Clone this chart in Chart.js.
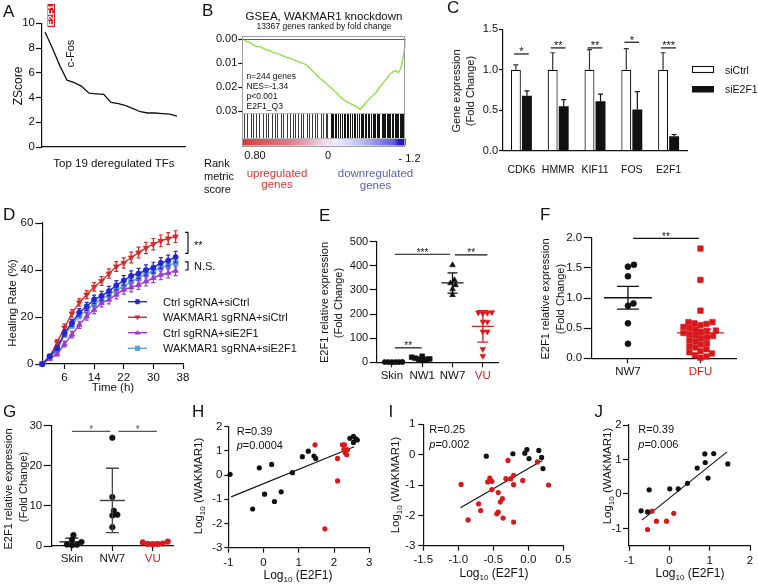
<!DOCTYPE html>
<html><head><meta charset="utf-8"><title>WAKMAR1 / E2F1 figure</title>
<script src="https://cdn.jsdelivr.net/npm/chart.js@4.4.1/dist/chart.umd.min.js"></script>
<style>
html,body{margin:0;padding:0;background:#fff;}
#wrap{position:relative;width:758px;height:587px;overflow:hidden;background:#fff;}
#wrap canvas{position:absolute;}
#wrap svg{position:absolute;left:0;top:0;pointer-events:none;}
</style></head>
<body><div id="wrap"></div>
<script>
// ================= DATA =================
// Panel A: top 19 deregulated transcription factors
const tfRank = [1,2,3,4,5,6,7,8,9,10,11,12,13,14,15,16,17,18,19];
const tfZScore = [9.3,8.0,6.6,5.4,5.2,4.9,4.35,4.3,4.25,3.6,3.5,3.35,3.1,2.85,2.75,2.75,2.7,2.65,2.5];
const topTFs = ['E2F1','c-Fos'];
// Panel B: GSEA running enrichment (magnitude, plotted downward)
const esRank = [0,85,357,630,903,1175,1448,1721,1993,2266,2539,2811,3084,3357,3629,3902,4175,4447,4720,4993,5265,5538,5811,6083,6356,6629,6901,7174,7447,7719,7992,8265,8537,8810,9083,9355,9628,9901,10173,10446,10719,10991,11264,11537,11809,12082,12355,12573,12763,12900,13036,13172,13308,13367];
const esValue = [0,0,0.00099,0.00141,0.00238,0.00308,0.00308,0.00378,0.00447,0.00475,0.00559,0.00587,0.00628,0.00698,0.00754,0.00796,0.00837,0.00907,0.00963,0.01004,0.01074,0.01213,0.01353,0.01492,0.01632,0.01743,0.01868,0.0198,0.02119,0.02258,0.02398,0.02509,0.02607,0.02676,0.02746,0.02816,0.02927,0.02788,0.02607,0.02467,0.02328,0.02189,0.0198,0.01813,0.01632,0.0145,0.01353,0.01311,0.01395,0.01283,0.01074,0.00726,0.00308,0];
const hitRanks = [139,409,687,900,1121,1391,1669,1939,2127,2405,2675,2863,3141,3354,3632,3902,4123,4311,4581,4777,4990,5268,5481,5677,5947,6135,6413,6577,6815,6953,7231,7330,7444,7560,7665,7853,8020,8131,8319,8430,8540,8680,8810,8949,9137,9250,9358,9571,9685,9790,9898,10010,10119,10307,10400,10503,10667,10760,10855,11043,11120,11207,11403,11500,11591,11700,11812,11920,12025,12120,12221,12352,12460,12573,12660,12761,12860,12957,13060,13170,13260];
const totalGenes = 13367;
const esTicks = [0,0.01,0.02,0.03];
const rankMetricLabels = ['0.80','0','- 1.2'];
const gseaStats = ['n=244 genes','NES=-1.34','p&lt;0.001','E2F1_Q3'];
// Panel C
const genes = ['CDK6','HMMR','KIF11','FOS','E2F1'];
const siCtrl = [1,1,1,1,1];
const siCtrlErr = [0.06,0.21,0.25,0.26,0.21];
const siE2F1 = [0.68,0.55,0.61,0.51,0.18];
const siE2F1Err = [0.06,0.08,0.09,0.22,0.02];
const cSigY = [1.195,1.27,1.27,1.34,1.27];
const cSigText = ['*','**','**','*','***'];
// Panel D
const timeH = [0,2,4,6,8,10,12,14,16,18,20,22,24,26,28,30,32,34,36];
const dTimeTicks = [6,14,22,30,38];
const dNames = ['Ctrl sgRNA+siCtrl','WAKMAR1 sgRNA+siCtrl','Ctrl sgRNA+siE2F1','WAKMAR1 sgRNA+siE2F1'];
const dCtrlSiCtrl = [0,3.3,6.8,13.2,17.5,22,24.5,27.5,29,31,33.5,35.5,37.5,38.5,40,41,43,44,45.5];
const dWakSiCtrl  = [0,3.3,9.2,15.5,21.5,26.2,29.5,32.8,35.3,38.5,41.5,43,45.3,47.4,49.4,51,52.4,53.4,54.2];
const dCtrlSiE2F1 = [0,2.2,4.2,8.5,12.5,16.7,20.3,23.1,26,27.4,29.5,31.6,32.6,33.7,35.2,36.6,38,38.7,39.7];
const dWakSiE2F1  = [0,2.7,5.8,12.3,16.5,20.5,23,25.5,27.5,29.5,31.5,33,35,36.5,38.3,39.5,41,42,43];
const dErrCtrlSiCtrl = [0,0.6,1.0,1.3,1.5,1.6,1.7,1.8,1.9,2.0,2.0,2.1,2.1,2.2,2.2,2.3,2.3,2.3,2.4];
const dErrWakSiCtrl  = [0,0.8,1.2,1.5,1.6,1.6,1.7,1.8,1.9,2.0,2.1,2.2,2.3,2.3,2.4,2.4,2.5,2.5,2.5];
const dErrCtrlSiE2F1 = [0,0.5,0.8,1.2,1.4,1.5,1.6,1.7,1.7,1.8,1.8,1.9,1.9,2.0,2.0,2.0,2.1,2.1,2.1];
const dErrWakSiE2F1  = [0,0.5,0.8,1.0,1.2,1.3,1.4,1.4,1.5,1.5,1.5,1.6,1.6,1.6,1.7,1.7,1.7,1.7,1.8];
const dBrackets = [[56,47.1,'**'],[43.5,40,'N.S.']];
// Panel E
const eCats = ['Skin','NW1','NW7','VU'];
const skinE = [0.6,1.4,0.9,1.2,0.8,1.1];
const nw1E = [25,21,14,17,8,10,12];
const nw7E = [403,328,320,341,303,279];
const vuE = [207,205,203,206,168,168,127,127,55,26];
const eSig = [[0.1,0.98,60,'**'],[0.1,1.92,448,'***'],[2.08,3.15,445,'**']];
// Panel F
const fCats = ['NW7','DFU'];
const nw7F = [1.55,1.52,1.36,0.87,0.91,0.58,0.24];
const dfuF = [1.82,1.30,0.79,0.60,0.60,0.58,0.57,0.55,0.52,0.50,0.48,0.46,0.45,0.43,0.42,0.40,0.38,0.37,0.35,0.33,0.30,0.28,0.25,0.23,0.20,0.18,0.15,0.12,0.10,0.08,0.05,0.03,0.01];
const fSig = [[0.07,0.98,1.99,'**']];
// Panel G
const gCats = ['Skin','NW7','VU'];
const skinG = [1.5,2.7,0.3,0.2,0.4,1.0];
const nw7G = [27.0,12.2,7.8,8.8,7.6,4.7];
const vuG = [1.1,0.5,0.4,0.5,0.6,0.9];
const gSig = [[0,0.95,28.6,'*'],[1.15,2.1,28.6,'*']];
// Panel H
const hBlackX = [-0.95,-0.31,-0.12,0.03,0.23,0.31,0.50,0.82,1.10,1.27,1.43,1.48,2.45,2.55,2.62,2.66,2.55];
const hBlackY = [0.03,-1.40,0.30,-0.79,0.44,-1.09,-0.69,0.10,0.76,0.99,0.79,0.69,1.52,1.60,1.50,1.45,1.35];
const hRedX = [1.46,1.74,2.10,2.10,2.24,2.30,2.28,2.32,2.36,2.38];
const hRedY = [1.25,-2.22,0.69,-0.24,1.25,1.25,1.05,0.92,0.84,1.05];
const hFitX = [-0.92,2.57], hFitY = [-0.90,1.17];
const hStats = ['R=0.39','0.0004'];
// Panel I
const iBlackX = [-0.60,-0.22,-0.05,-0.02,0.01,0.15,0.19,0.21];
const iBlackY = [-0.05,0.03,0.05,0.17,-0.13,0.14,-0.09,-0.46];
const iRedX = [-0.96,-0.86,-0.71,-0.68,-0.58,-0.55,-0.52,-0.52,-0.45,-0.43,-0.43,-0.40,-0.37,-0.36,-0.32,-0.29,-0.25,-0.21,-0.21,-0.21,-0.08,0.13,0.29];
const iRedY = [-0.98,-2.15,-1.62,-1.84,-0.90,-0.77,-0.88,-1.15,-1.95,-1.89,-1.25,-1.56,-1.45,-2.09,-0.79,-0.19,-0.79,-0.68,-0.99,-2.22,-0.85,-0.24,-1.00];
const iFitX = [-0.97,0.2], iFitY = [-1.75,-0.19];
const iStats = ['R=0.25','0.002'];
// Panel J
const jBlackX = [-0.70,-0.54,-0.50,0.01,0.22,0.45,0.69,0.88,0.89,0.96,1.10,1.45];
const jBlackY = [-0.49,-0.52,0.12,0.15,0.15,0.31,0.75,1.16,0.91,0.46,1.17,0.87];
const jRedX = [-0.54,-0.43,-0.32,-0.07,0.11];
const jRedY = [-1.03,-0.50,-0.79,-0.79,-0.56];
const jFitX = [-0.68,1.43], jFitY = [-0.76,1.22];
const jStats = ['R=0.39','0.006'];

// ================= SETUP =================
const wrap = document.getElementById('wrap');
const FONT = "'Liberation Sans', Arial, Helvetica, sans-serif";
const INK = '#111';
const RED = '#d7191c';
Chart.defaults.font.family = FONT;
Chart.defaults.font.size = 11.5;
Chart.defaults.color = INK;
Chart.defaults.animation = false;
Chart.defaults.responsive = false;
Chart.defaults.maintainAspectRatio = false;
Chart.defaults.devicePixelRatio = 1;
Chart.defaults.events = [];
Chart.defaults.plugins.legend.display = false;
Chart.defaults.plugins.tooltip.enabled = false;

function ax(o) {
  const a = {
    type: o.type || 'linear',
    reverse: !!o.reverse,
    offset: !!o.offset,
    border: { display: o.border !== false, color: INK, width: 1.2 },
    grid: { display: o.ticks !== false, drawOnChartArea: false, drawTicks: true, tickLength: o.tl ?? 4, tickWidth: 1.2, tickColor: INK, color: INK },
    ticks: { display: o.labels !== false, padding: o.pad ?? 2, maxRotation: 0, minRotation: 0, autoSkip: false, font: { size: o.size || 11.5 }, color: o.color || INK }
  };
  if (o.min !== undefined) a.min = o.min;
  if (o.max !== undefined) a.max = o.max;
  if (o.step) a.ticks.stepSize = o.step;
  if (o.cb) a.ticks.callback = o.cb;
  if (o.tickVals) a.afterBuildTicks = s => { s.ticks = o.tickVals.map(v => ({ value: v })); };
  return a;
}

function makeChart(area, m, cfg) {
  const [l, t, r, b] = area, [ml, mt, mr, mb] = m;
  const cx = Math.floor(l - ml), cy = Math.floor(t - mt);
  const ML = l - cx, MT = t - cy;
  const W = Math.ceil(r + mr - cx), H = Math.ceil(b + mb - cy);
  const MR = W - (r - cx), MB = H - (b - cy);
  const c = document.createElement('canvas');
  c.width = W; c.height = H;
  c.style.cssText = `left:${cx}px;top:${cy}px;width:${W}px;height:${H}px`;
  wrap.appendChild(c);
  const o = cfg.options;
  const sx = o.scales.x, sy = o.scales.y;
  sy.afterFit = s => { s.width = ML; };
  const xDisp = sx.display !== false;
  if (xDisp) sx.afterFit = s => { s.height = MB; };
  o.layout = { padding: { left: 0, top: MT, right: MR, bottom: xDisp ? 0 : MB } };
  return new Chart(c, cfg);
}

// error bars (per dataset)
Chart.register({
  id: 'errbars',
  afterDatasetDraw(chart, args) {
    const ds = chart.data.datasets[args.index];
    if (!ds.err) return;
    const ys = chart.scales.y, ctx = chart.ctx;
    ctx.save();
    ctx.strokeStyle = ds.errColor || ds.borderColor;
    ctx.lineWidth = 1.2;
    args.meta.data.forEach((el, i) => {
      const d = ds.data[i];
      const v = (typeof d === 'object') ? d.y : d;
      const e = ds.err[i];
      if (!e) return;
      const yT = ys.getPixelForValue(v + e);
      const yB = ds.errUpOnly ? ys.getPixelForValue(v) : ys.getPixelForValue(v - e);
      const x = el.x, cw = ds.capW || 2.5;
      ctx.beginPath();
      ctx.moveTo(x, yB); ctx.lineTo(x, yT);
      ctx.moveTo(x - cw, yT); ctx.lineTo(x + cw, yT);
      if (!ds.errUpOnly) { ctx.moveTo(x - cw, yB); ctx.lineTo(x + cw, yB); }
      ctx.stroke();
    });
    ctx.restore();
  }
});

function sigPlugin(items, o) {
  return { id: 'sig', afterDraw(chart) {
    const ctx = chart.ctx, xs = chart.scales.x, ys = chart.scales.y;
    ctx.save();
    items.forEach(it => {
      const x1 = xs.getPixelForValue(it[0]), x2 = xs.getPixelForValue(it[1]), y = ys.getPixelForValue(it[2]);
      ctx.strokeStyle = o.color || INK; ctx.lineWidth = 1.2;
      ctx.beginPath(); ctx.moveTo(x1, y); ctx.lineTo(x2, y); ctx.stroke();
      ctx.fillStyle = o.color || INK;
      ctx.font = `${o.size || 10}px ${FONT}`;
      ctx.textAlign = 'center'; ctx.textBaseline = 'alphabetic';
      ctx.fillText(it[3], (x1 + x2) / 2, y + 1.5);
    });
    ctx.restore();
  }};
}

function swarmPlugin(dist) {
  return { id: 'swarm', afterDatasetsUpdate(chart) {
    chart.data.datasets.forEach((ds, di) => {
      const meta = chart.getDatasetMeta(di);
      const d = Array.isArray(dist) ? dist[di] : dist;
      const els = meta.data.slice().sort((a, b) => b.y - a.y);
      const placed = [];
      els.forEach(el => {
        const cx = el.x;
        for (let k = 0; k < 400; k++) {
          const off = k === 0 ? 0 : ((k % 2) ? 1 : -1) * Math.ceil(k / 2) * 0.5;
          const nx = cx + off;
          if (placed.every(p => Math.hypot(p.x - nx, p.y - el.y) >= d)) { el.x = nx; break; }
        }
        placed.push({ x: el.x, y: el.y });
      });
    });
  }};
}

function meanErrPlugin(groups) {
  return { id: 'meanErr', afterDatasetsDraw(chart) {
    const ctx = chart.ctx, xs = chart.scales.x, ys = chart.scales.y;
    groups.forEach(g => {
      const ds = chart.data.datasets[g.ds];
      const v = ds.data.map(p => p.y), n = v.length;
      const mean = v.reduce((a, b) => a + b, 0) / n;
      const sd = Math.sqrt(v.reduce((a, b) => a + (b - mean) ** 2, 0) / (n - 1));
      const e = g.mode === 'sem' ? sd / Math.sqrt(n) : sd;
      const cx = xs.getPixelForValue(ds.data[0].x);
      const ym = ys.getPixelForValue(mean), yt = ys.getPixelForValue(mean + e), yb = ys.getPixelForValue(Math.max(mean - e, ys.min));
      ctx.save();
      ctx.strokeStyle = g.color; ctx.lineWidth = 1.3;
      ctx.beginPath();
      ctx.moveTo(cx - g.meanW / 2, ym); ctx.lineTo(cx + g.meanW / 2, ym);
      ctx.moveTo(cx, yt); ctx.lineTo(cx, yb);
      ctx.moveTo(cx - g.capW / 2, yt); ctx.lineTo(cx + g.capW / 2, yt);
      ctx.moveTo(cx - g.capW / 2, yb); ctx.lineTo(cx + g.capW / 2, yb);
      ctx.stroke();
      ctx.restore();
    });
  }};
}

function grp(vals, xi, ps, rot, r, col) {
  return { data: vals.map(v => ({ x: xi, y: v })), pointStyle: ps, pointRotation: rot, pointRadius: r,
           backgroundColor: col, borderColor: col, pointBorderWidth: 0.6, clip: false };
}
function pts(xs, ys) { return xs.map((x, i) => ({ x: x, y: ys[i] })); }

// ================= PANEL A =================
makeChart([42, 23.3, 185, 147], [30, 10, 4, 8], {
  type: 'line',
  data: { datasets: [{ data: pts(tfRank, tfZScore), borderColor: INK, borderWidth: 1.3, pointRadius: 0, tension: 0 }] },
  options: { scales: {
    x: ax({ min: 0.59, max: 20.09, labels: false, ticks: false }),
    y: ax({ min: 0, max: 10, step: 2, tl: 6, pad: 1 })
  } }
});

// ================= PANEL B =================
const gseaPlugin = { id: 'gsea', afterDraw(chart) {
  const ctx = chart.ctx, ca = chart.chartArea, xs = chart.scales.x;
  const top = ca.top, bot = ca.bottom;
  ctx.save();
  ctx.lineWidth = 1;
  hitRanks.forEach((r, i) => {
    const x = Math.round(xs.getPixelForValue(r)) + 0.5;
    ctx.strokeStyle = r > 7000 ? '#141414' : '#3a3a3a';
    ctx.beginPath(); ctx.moveTo(x, bot + 1); ctx.lineTo(x, bot + 25); ctx.stroke();
  });
  const g = ctx.createLinearGradient(ca.left, 0, ca.right, 0);
  [[0,'#d43a3a'],[0.12,'#d95a5a'],[0.28,'#dd7788'],[0.4,'#e8a6bd'],[0.5,'#f2d4e8'],[0.57,'#ebebfa'],[0.65,'#d6d6f5'],[0.75,'#b4b4ef'],[0.85,'#7f7fe4'],[0.93,'#5c5cdc'],[0.955,'#2a1fc6'],[1,'#1c12b6']].forEach(s => g.addColorStop(s[0], s[1]));
  ctx.fillStyle = g;
  ctx.fillRect(ca.left, bot + 26, ca.right - ca.left, 6.5);
  ctx.strokeStyle = '#b8b8b8';
  ctx.beginPath(); ctx.moveTo(ca.left, bot + 0.5); ctx.lineTo(ca.right, bot + 0.5);
  ctx.moveTo(ca.left, bot + 25.5); ctx.lineTo(ca.right, bot + 25.5); ctx.stroke();
  ctx.strokeStyle = '#5f5872';
  ctx.beginPath(); ctx.moveTo(ca.left, Math.round(top) + 0.5); ctx.lineTo(ca.right, Math.round(top) + 0.5); ctx.stroke();
  ctx.strokeStyle = '#9d9d9d';
  ctx.strokeRect(Math.round(ca.left) + 0.5, Math.round(top - 3.3) + 0.5, Math.round(ca.right - ca.left) - 1, Math.round(bot + 32.5 - (top - 3.3)));
  ctx.restore();
}};
makeChart([242.3, 39.3, 405.7, 113], [46, 9, 4, 36], {
  type: 'line',
  data: { datasets: [{ data: pts(esRank, esValue), borderColor: '#8fe046', borderWidth: 1.4, pointRadius: 0, tension: 0 }] },
  options: { scales: {
    x: { type: 'linear', display: false, min: 0, max: totalGenes },
    y: ax({ min: 0, max: 0.0308, reverse: true, tickVals: esTicks, cb: v => v.toFixed(2), border: false, size: 11, tl: 4, pad: 1 })
  } },
  plugins: [gseaPlugin]
});

// ================= PANEL C =================
makeChart([503, 29.3, 687, 150.7], [42, 9, 6, 25], {
  type: 'bar',
  data: { labels: genes, datasets: [
    { label: 'siCtrl', data: siCtrl, backgroundColor: '#fff', borderColor: INK, borderWidth: 1.2, err: siCtrlErr, errUpOnly: true, errColor: '#333', capW: 2.5, categoryPercentage: 0.6, barPercentage: 0.9 },
    { label: 'siE2F1', data: siE2F1, backgroundColor: INK, borderColor: INK, borderWidth: 0, err: siE2F1Err, errUpOnly: true, errColor: INK, capW: 2.5, categoryPercentage: 0.6, barPercentage: 0.9 }
  ] },
  options: { scales: {
    x: ax({ type: 'category', offset: true, ticks: false, pad: 9, size: 10.5 }),
    y: ax({ min: 0, max: 1.5, step: 0.5, cb: v => v.toFixed(1), size: 11, tl: 4, pad: 1 })
  } },
  plugins: [sigPlugin(genes.map((g, i) => [i - 0.2, i + 0.2, cSigY[i], cSigText[i]]), { size: 11 })]
});

// ================= PANEL D =================
const dSeries = [dCtrlSiCtrl, dWakSiCtrl, dCtrlSiE2F1, dWakSiE2F1];
const dErrs = [dErrCtrlSiCtrl, dErrWakSiCtrl, dErrCtrlSiE2F1, dErrWakSiE2F1];
const dLook = [
  { c: '#2626d4', ps: 'circle', rot: 0, r: 2.6 },
  { c: '#d42a2a', ps: 'triangle', rot: 180, r: 3.2 },
  { c: '#9a3ad6', ps: 'triangle', rot: 0, r: 3.2 },
  { c: '#5aa3cf', ps: 'rect', rot: 0, r: 3.6 }
];
const bracketPlugin = { id: 'brackets', afterDraw(chart) {
  const ctx = chart.ctx, ys = chart.scales.y, x = chart.chartArea.right + 5;
  ctx.save();
  ctx.strokeStyle = INK; ctx.fillStyle = INK; ctx.lineWidth = 1.2;
  ctx.font = `11px ${FONT}`; ctx.textAlign = 'left'; ctx.textBaseline = 'alphabetic';
  dBrackets.forEach(bk => {
    const y1 = ys.getPixelForValue(bk[0]), y2 = ys.getPixelForValue(bk[1]);
    ctx.beginPath();
    ctx.moveTo(x - 3, y1); ctx.lineTo(x, y1); ctx.lineTo(x, y2); ctx.lineTo(x - 3, y2);
    ctx.stroke();
    const ym = (y1 + y2) / 2;
    ctx.fillText(bk[2], x + 6, ym + (bk[2] === '**' ? 6.5 : 4));
  });
  ctx.restore();
}};
makeChart([42.3, 223, 183, 364], [32, 10, 36, 24], {
  type: 'line',
  data: { datasets: dSeries.map((s, k) => ({
    label: dNames[k], data: pts(timeH, s),
    borderColor: dLook[k].c, backgroundColor: dLook[k].c, borderWidth: 1.4,
    pointStyle: dLook[k].ps, pointRotation: dLook[k].rot, pointRadius: dLook[k].r, pointBorderWidth: 0.8,
    err: dErrs[k], capW: 2, clip: false, tension: 0
  })) },
  options: { scales: {
    x: ax({ min: 0, max: 38, tickVals: dTimeTicks, tl: 5, pad: 2 }),
    y: ax({ min: 0, max: 60, step: 20, tl: 7, pad: 2 })
  } },
  plugins: [bracketPlugin]
});

// ================= PANEL E =================
const eCatColor = [INK, INK, INK, RED];
makeChart([376.7, 241.7, 498, 362.3], [38, 10, 8, 26], {
  type: 'scatter',
  data: { datasets: [
    grp(skinE, 0, 'circle', 0, 2.6, INK),
    grp(nw1E, 1, 'rect', 0, 3.4, INK),
    grp(nw7E, 2, 'triangle', 0, 3.3, INK),
    grp(vuE, 3, 'triangle', 180, 3.3, RED)
  ] },
  options: { scales: {
    x: ax({ min: -0.5, max: 3.5, tickVals: [0,1,2,3], cb: v => eCats[v], color: c => c.tick ? eCatColor[c.tick.value] : INK, tl: 5, pad: 1.5 }),
    y: ax({ min: 0, max: 500, step: 100, tl: 7, pad: 1.5, size: 11 })
  } },
  plugins: [swarmPlugin([3.2, 3.6, 5, 4.5]), meanErrPlugin([
    { ds: 0, color: INK, meanW: 20, capW: 10, mode: 'sd' },
    { ds: 1, color: INK, meanW: 20, capW: 10, mode: 'sd' },
    { ds: 2, color: INK, meanW: 22, capW: 10, mode: 'sd' },
    { ds: 3, color: RED, meanW: 22, capW: 11, mode: 'sd' }
  ]), sigPlugin(eSig, { size: 10 })]
});

// ================= PANEL F =================
const fCatColor = [INK, RED];
makeChart([591.7, 237.7, 736.7, 358.3], [38, 10, 10, 26], {
  type: 'scatter',
  data: { datasets: [
    grp(nw7F, 0, 'circle', 0, 3, INK),
    grp(dfuF, 1, 'rect', 0, 3.9, RED)
  ] },
  options: { scales: {
    x: ax({ min: -0.5, max: 1.5, tickVals: [0,1], cb: v => fCats[v], color: c => c.tick ? fCatColor[c.tick.value] : INK, tl: 5, pad: 1.5 }),
    y: ax({ min: 0, max: 2, step: 0.5, cb: v => v.toFixed(1), tl: 8, pad: 1.5 })
  } },
  plugins: [swarmPlugin(6), meanErrPlugin([
    { ds: 0, color: INK, meanW: 48, capW: 22, mode: 'sem' },
    { ds: 1, color: RED, meanW: 47, capW: 22, mode: 'sem' }
  ]), sigPlugin(fSig, { size: 10 })]
});

// ================= PANEL G =================
const gCatColor = [INK, INK, RED];
makeChart([51.7, 425.7, 173, 546], [32, 10, 8, 26], {
  type: 'scatter',
  data: { datasets: [
    grp(skinG, 0, 'circle', 0, 2.8, INK),
    grp(nw7G, 1, 'circle', 0, 2.8, INK),
    grp(vuG, 2, 'circle', 0, 2.8, RED)
  ] },
  options: { scales: {
    x: ax({ min: -0.5, max: 2.5, tickVals: [0,1,2], cb: v => gCats[v], color: c => c.tick ? gCatColor[c.tick.value] : INK, tl: 5, pad: 1 }),
    y: ax({ min: 0, max: 30, step: 10, tl: 8, pad: 1.5 })
  } },
  plugins: [swarmPlugin(5), meanErrPlugin([
    { ds: 0, color: INK, meanW: 25, capW: 13, mode: 'sd' },
    { ds: 1, color: '#444', meanW: 25, capW: 13, mode: 'sd' },
    { ds: 2, color: RED, meanW: 25, capW: 13, mode: 'sd' }
  ]), sigPlugin(gSig, { size: 10, color: '#555' })]
});

// ================= PANELS H, I, J =================
function corrChart(area, m, bx, by, rx, ry, fx, fy, xo, yo) {
  makeChart(area, m, {
    type: 'scatter',
    data: { datasets: [
      { data: pts(bx, by), backgroundColor: INK, borderColor: INK, pointRadius: 2.6, pointBorderWidth: 0, clip: false },
      { data: pts(rx, ry), backgroundColor: RED, borderColor: RED, pointRadius: 2.6, pointBorderWidth: 0, clip: false },
      { data: pts(fx, fy), showLine: true, borderColor: INK, borderWidth: 1.1, pointRadius: 0 }
    ] },
    options: { scales: { x: ax(xo), y: ax(yo) } }
  });
}
corrChart([228.3, 426.7, 369.3, 547.7], [26, 10, 8, 26], hBlackX, hBlackY, hRedX, hRedY, hFitX, hFitY,
  { min: -1, max: 3, step: 1, tl: 5, pad: 3 }, { min: -3, max: 2, step: 1, tl: 4, pad: 2 });
corrChart([423.3, 424.3, 563.3, 545.7], [26, 10, 12, 26], iBlackX, iBlackY, iRedX, iRedY, iFitX, iFitY,
  { min: -1.5, max: 0.5, tickVals: [-1.5,-1,-0.5,0,0.5], cb: v => v.toFixed(1), tl: 5, pad: 2.4 }, { min: -3, max: 1, step: 1, tl: 5, pad: 3 });
corrChart([629, 425, 750, 545.7], [26, 10, 7, 26], jBlackX, jBlackY, jRedX, jRedY, jFitX, jFitY,
  { min: -1, max: 2, step: 1, tl: 5, pad: 3.4 }, { min: -1.5, max: 2, tickVals: [-1,0,1,2], tl: 6, pad: 1.3 });

// ================= TEXT OVERLAY =================
const S = [];
function T(x, y, s, o = {}) {
  const size = o.size || 11.5, anchor = o.anchor || 'middle', fill = o.fill || INK;
  const tr = o.rot ? ` transform="rotate(${o.rot} ${x} ${y})"` : '';
  const w = o.weight ? ` font-weight="${o.weight}"` : '';
  S.push(`<text x="${x}" y="${y}" font-size="${size}" text-anchor="${anchor}" fill="${fill}"${w}${tr}>${s}</text>`);
}
function logLabel(s) { return `Log<tspan font-size="8" dy="3">10</tspan><tspan dy="-3"> (${s})</tspan>`; }
// panel letters
[['A',3,17],['B',202,15.5],['C',447,13],['D',3,220],['E',319,221],['F',540,220],['G',3,417],['H',192,417],['I',388.5,417],['J',594.5,417]]
  .forEach(p => T(p[1], p[2], p[0], { size: 17, anchor: 'start' }));
// A
T(22, 86, 'ZScore', { rot: -90, size: 12 });
T(114, 167, 'Top 19 deregulated TFs', { size: 11.5 });
S.push(`<rect x="47.5" y="4" width="7.5" height="23" fill="${RED}"/>`);
T(54.3, 15.5, topTFs[0], { rot: -90, size: 9, weight: 'bold', fill: '#fff' });
T(74, 53.5, topTFs[1], { rot: -90, size: 11 });
// B
T(324, 20, 'GSEA, WAKMAR1 knockdown', { size: 11.5 });
T(324, 29, '13367 genes ranked by fold change', { size: 8.5 });
gseaStats.forEach((s, i) => T(246.5, 78.5 + 10 * i, s, { size: 8.5, anchor: 'start' }));
[[255,159],[328,159],[409.5,161.5]].forEach((p, i) => T(p[0], p[1], rankMetricLabels[i], { size: 11 }));
['Rank','metric','score'].forEach((s, i) => T(204, [167,180,192.5][i], s, { size: 11, anchor: 'start' }));
T(277, 176.5, 'upregulated', { fill: '#cf3636' });
T(277, 188, 'genes', { fill: '#cf3636' });
T(375.5, 176.5, 'downregulated', { fill: '#5b5fb2' });
T(375.5, 188.5, 'genes', { fill: '#5b5fb2' });
// C
T(460, 91, 'Gene expression', { rot: -90, size: 11 });
T(474, 91, '(Fold Change)', { rot: -90, size: 11 });
S.push(`<rect x="692.5" y="66.5" width="21" height="6" fill="#fff" stroke="${INK}" stroke-width="1.1"/>`);
S.push(`<rect x="692" y="86" width="22" height="6.5" fill="${INK}"/>`);
T(725, 73.5, 'siCtrl', { anchor: 'start', size: 10.5 });
T(725, 93, 'siE2F1', { anchor: 'start', size: 10.5 });
// D
T(15.5, 303, 'Healing Rate (%)', { rot: -90, size: 11.5 });
T(113, 391, 'Time (h)', { size: 11.5 });
[301.7, 317.3, 332.7, 348.3].forEach((y, k) => {
  const c = dLook[k].c, mx = 137.5;
  S.push(`<line x1="128" y1="${y}" x2="147" y2="${y}" stroke="${c}" stroke-width="1.4"/>`);
  if (k === 0) S.push(`<circle cx="${mx}" cy="${y}" r="2.6" fill="${c}"/>`);
  if (k === 1) S.push(`<polygon points="${mx-3},${y-1.8} ${mx+3},${y-1.8} ${mx},${y+2.8}" fill="${c}"/>`);
  if (k === 2) S.push(`<polygon points="${mx-3},${y+1.8} ${mx+3},${y+1.8} ${mx},${y-2.8}" fill="${c}"/>`);
  if (k === 3) S.push(`<rect x="${mx-2.6}" y="${y-2.6}" width="5.2" height="5.2" fill="${c}"/>`);
  T(163, y + 4, dNames[k], { anchor: 'start', size: 11 });
});
// E, F, G
T(328, 302.5, 'E2F1 relative expression', { rot: -90, size: 11 });
T(342, 303, '(Fold Change)', { rot: -90, size: 11 });
T(549, 299, 'E2F1 relative expression', { rot: -90, size: 11 });
T(564, 299, '(Fold Change)', { rot: -90, size: 11 });
T(11.5, 489, 'E2F1 relative expression', { rot: -90, size: 11 });
T(26.5, 487, '(Fold Change)', { rot: -90, size: 11 });
// H, I, J
const pIt = v => `<tspan font-style="italic">p</tspan>=${v}`;
T(201.5, 486, logLabel('WAKMAR1'), { rot: -90, size: 11.5 });
T(298, 579, logLabel('E2F1'), { size: 12 });
T(236.7, 434.5, hStats[0], { anchor: 'start', size: 11 });
T(236.7, 448.5, pIt(hStats[1]), { anchor: 'start', size: 11 });
T(398.5, 485, logLabel('WAKMAR1'), { rot: -90, size: 11.5 });
T(494, 577, logLabel('E2F1'), { size: 12 });
T(429.3, 433.3, iStats[0], { anchor: 'start', size: 11 });
T(429.3, 447.7, pIt(iStats[1]), { anchor: 'start', size: 11 });
T(611, 476, logLabel('WAKMAR1'), { rot: -90, size: 11.5 });
T(690, 577, logLabel('E2F1'), { size: 12 });
T(638.3, 432.7, jStats[0], { anchor: 'start', size: 11 });
T(638.3, 447.7, pIt(jStats[1]), { anchor: 'start', size: 11 });

wrap.insertAdjacentHTML('beforeend',
  `<svg xmlns="http://www.w3.org/2000/svg" width="758" height="587" font-family="${FONT}">${S.join('')}</svg>`);
</script>
</body></html>
